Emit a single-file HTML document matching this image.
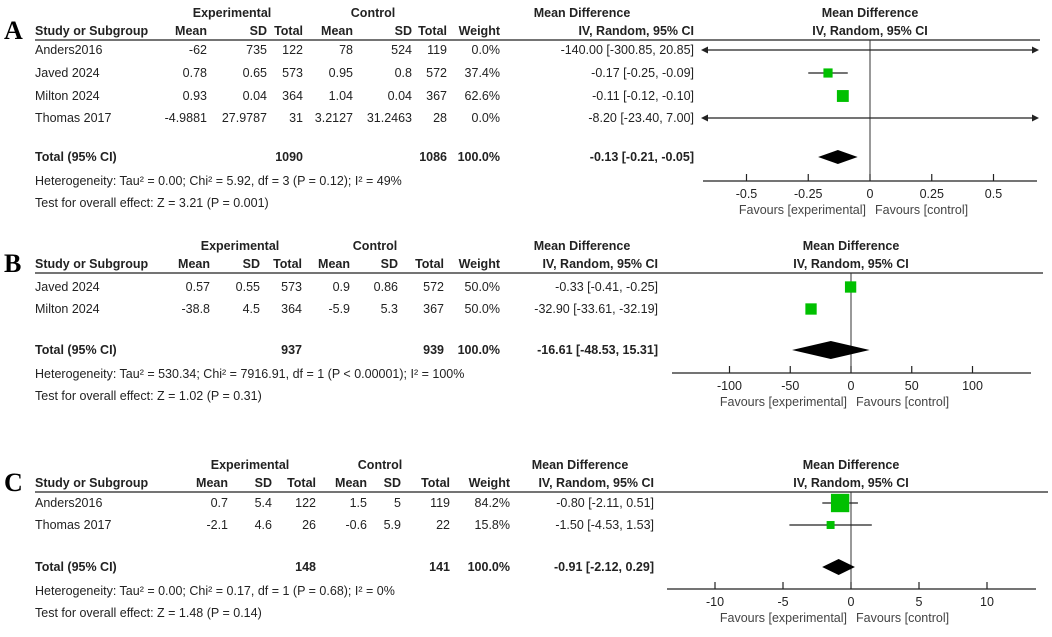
<!DOCTYPE html>
<html><head><meta charset="utf-8"><style>
body{margin:0;background:#fff}
svg{display:block;font-family:"Liberation Sans Narrow","Liberation Sans",sans-serif;font-size:12.5px;fill:#222}
.b{font-weight:bold}
</style></head><body>
<svg id="s" width="1052" height="637" viewBox="0 0 1052 637"></svg>
<script>
// Panel A data
const studiesA=["Anders2016","Javed 2024","Milton 2024","Thomas 2017"];
const eMeanA=["-62","0.78","0.93","-4.9881"],eSdA=["735","0.65","0.04","27.9787"],eNA=["122","573","364","31"];
const cMeanA=["78","0.95","1.04","3.2127"],cSdA=["524","0.8","0.04","31.2463"],cNA=["119","572","367","28"];
const weightA=[0.0,37.4,62.6,0.0];
const mdA=[-140.00,-0.17,-0.11,-8.20],loA=[-300.85,-0.25,-0.12,-23.40],hiA=[20.85,-0.09,-0.10,7.00];
const totalA=[-0.13,-0.21,-0.05];
const ticksA=[-0.5,-0.25,0,0.25,0.5];
// Panel B data
const studiesB=["Javed 2024","Milton 2024"];
const eMeanB=["0.57","-38.8"],eSdB=["0.55","4.5"],eNB=["573","364"];
const cMeanB=["0.9","-5.9"],cSdB=["0.86","5.3"],cNB=["572","367"];
const weightB=[50.0,50.0];
const mdB=[-0.33,-32.90],loB=[-0.41,-33.61],hiB=[-0.25,-32.19];
const totalB=[-16.61,-48.53,15.31];
const ticksB=[-100,-50,0,50,100];
// Panel C data
const studiesC=["Anders2016","Thomas 2017"];
const eMeanC=["0.7","-2.1"],eSdC=["5.4","4.6"],eNC=["122","26"];
const cMeanC=["1.5","-0.6"],cSdC=["5","5.9"],cNC=["119","22"];
const weightC=[84.2,15.8];
const mdC=[-0.80,-1.50],loC=[-2.11,-4.53],hiC=[0.51,1.53];
const totalC=[-0.91,-2.12,0.29];
const ticksC=[-10,-5,0,5,10];

const S=document.getElementById('s');const NS="http://www.w3.org/2000/svg";
function el(t,a,txt){const e=document.createElementNS(NS,t);for(const k in a)e.setAttribute(k,a[k]);if(txt!==undefined)e.textContent=txt;S.appendChild(e);return e;}
function tx(x,y,s,anchor,cls,name){const e=el('text',{x:x,y:y,'text-anchor':anchor||'start',class:cls||''},s);

return e;}
function fmt(v){return v.toFixed(2);}
function panel(P){
  const L=tx(4,P.lineY-1,P.letter,'start','','panel-letter');L.setAttribute('style','font-family:"Liberation Serif",serif;font-size:26px;font-weight:bold;fill:#000');
  const c=P.cols;
  tx(P.expC,P.h1,'Experimental','middle','b','experimental-header');
  tx(P.ctlC,P.h1,'Control','middle','b','control-header');
  tx(P.mdC,P.h1,'Mean Difference','middle','b','md-header');
  tx(P.zero,P.h1,'Mean Difference','middle','b','plot-md-header');
  const h2=P.lineY-5;
  tx(35,h2,'Study or Subgroup','start','b','study-header');
  const hd=['Mean','SD','Total','Mean','SD','Total','Weight','IV, Random, 95% CI'];
  hd.forEach((h,i)=>tx(c[i],h2,h,'end','b','col-header'));
  tx(P.zero,h2,'IV, Random, 95% CI','middle','b','plot-subheader');
  const ln=el('line',{x1:35,x2:P.lineEnd,y1:P.lineY,y2:P.lineY,stroke:'#222','stroke-width':1.3});
  
  const X=v=>P.zero+v*P.scale;
  const zl=el('line',{x1:P.zero,x2:P.zero,y1:P.lineY,y2:P.axisY,stroke:'#333','stroke-width':1});
  
  P.studies.forEach((s,i)=>{
    const y=P.rows[i];
    tx(35,y+4,s,'start','','study-name');
    [P.em[i],P.es[i],P.en[i],P.cm[i],P.cs[i],P.cn[i],P.w[i].toFixed(1)+'%',fmt(P.md[i])+' ['+fmt(P.lo[i])+', '+fmt(P.hi[i])+']'].forEach((v,j)=>tx(c[j],y+4,v,'end','','cell'));
    let x1=X(P.lo[i]),x2=X(P.hi[i]);
    const out1=x1<P.axL,out2=x2>P.axR;x1=Math.max(x1,P.axL);x2=Math.min(x2,P.axR);
    const ci=el('line',{x1:x1,x2:x2,y1:y,y2:y,stroke:'#222','stroke-width':1.2});
    
    if(out1){const a=el('polygon',{points:`${P.axL-2},${y} ${P.axL+5},${y-3.5} ${P.axL+5},${y+3.5}`,fill:'#222'});}
    if(out2){const a=el('polygon',{points:`${P.axR+2},${y} ${P.axR-5},${y-3.5} ${P.axR-5},${y+3.5}`,fill:'#222'});}
    if(P.w[i]>0){const sz=P.sq*Math.sqrt(P.w[i]);const mx=X(P.md[i]);
      const r=el('rect',{x:mx-sz/2,y:y-sz/2,width:sz,height:sz,fill:'#00c000'});
      }
  });
  const ty=P.totY;
  tx(35,ty+4,'Total (95% CI)','start','b','total-label');
  tx(c[2],ty+4,P.tE,'end','b','total-exp');tx(c[5],ty+4,P.tC,'end','b','total-ctl');
  tx(c[6],ty+4,'100.0%','end','b','total-weight');
  tx(c[7],ty+4,fmt(P.tot[0])+' ['+fmt(P.tot[1])+', '+fmt(P.tot[2])+']','end','b','total-ci');
  const d=el('polygon',{points:`${X(P.tot[1])},${ty} ${X(P.tot[0])},${ty-P.dh} ${X(P.tot[2])},${ty} ${X(P.tot[0])},${ty+P.dh}`,fill:'#000'});
  
  tx(35,ty+28,P.het,'start','','heterogeneity');
  tx(35,ty+50,P.test,'start','','overall-effect');
  const ax=el('line',{x1:P.axL,x2:P.axR,y1:P.axisY,y2:P.axisY,stroke:'#222','stroke-width':1.3});
  
  P.ticks.forEach(t=>{const tk=el('line',{x1:X(t),x2:X(t),y1:P.axisY-7,y2:P.axisY,stroke:'#222','stroke-width':1.2});
    
    tx(X(t),P.axisY+17,String(t),'middle','','x-tick-label');});
  tx(P.zero-4,P.axisY+33,'Favours [experimental]','end','','favours-experimental').setAttribute('fill','#444');
  tx(P.zero+5,P.axisY+33,'Favours [control]','start','','favours-control').setAttribute('fill','#444');
}
panel({letter:'A',h1:17,lineY:40,lineEnd:1040,expC:232,ctlC:373,mdC:582,cols:[207,267,303,353,412,447,500,694],
 studies:studiesA,em:eMeanA,es:eSdA,en:eNA,cm:cMeanA,cs:cSdA,cn:cNA,w:weightA,md:mdA,lo:loA,hi:hiA,tot:totalA,
 rows:[50,73,96,118],totY:157,tE:'1090',tC:'1086',zero:870,scale:247,axL:703,axR:1037,axisY:181,ticks:ticksA,sq:1.5,dh:7,
 het:'Heterogeneity: Tau² = 0.00; Chi² = 5.92, df = 3 (P = 0.12); I² = 49%',test:'Test for overall effect: Z = 3.21 (P = 0.001)'});
panel({letter:'B',h1:250,lineY:273,lineEnd:1043,expC:240,ctlC:375,mdC:582,cols:[210,260,302,350,398,444,500,658],
 studies:studiesB,em:eMeanB,es:eSdB,en:eNB,cm:cMeanB,cs:cSdB,cn:cNB,w:weightB,md:mdB,lo:loB,hi:hiB,tot:totalB,
 rows:[287,309],totY:350,tE:'937',tC:'939',zero:851,scale:1.215,axL:672,axR:1031,axisY:373,ticks:ticksB,sq:1.6,dh:9,
 het:'Heterogeneity: Tau² = 530.34; Chi² = 7916.91, df = 1 (P < 0.00001); I² = 100%',test:'Test for overall effect: Z = 1.02 (P = 0.31)'});
panel({letter:'C',h1:469,lineY:492,lineEnd:1048,expC:250,ctlC:380,mdC:580,cols:[228,272,316,367,401,450,510,654],
 studies:studiesC,em:eMeanC,es:eSdC,en:eNC,cm:cMeanC,cs:cSdC,cn:cNC,w:weightC,md:mdC,lo:loC,hi:hiC,tot:totalC,
 rows:[503,525],totY:567,tE:'148',tC:'141',zero:851,scale:13.6,axL:667,axR:1036,axisY:589,ticks:ticksC,sq:2.0,dh:8,
 het:'Heterogeneity: Tau² = 0.00; Chi² = 0.17, df = 1 (P = 0.68); I² = 0%',test:'Test for overall effect: Z = 1.48 (P = 0.14)'});
</script>
</body></html>
